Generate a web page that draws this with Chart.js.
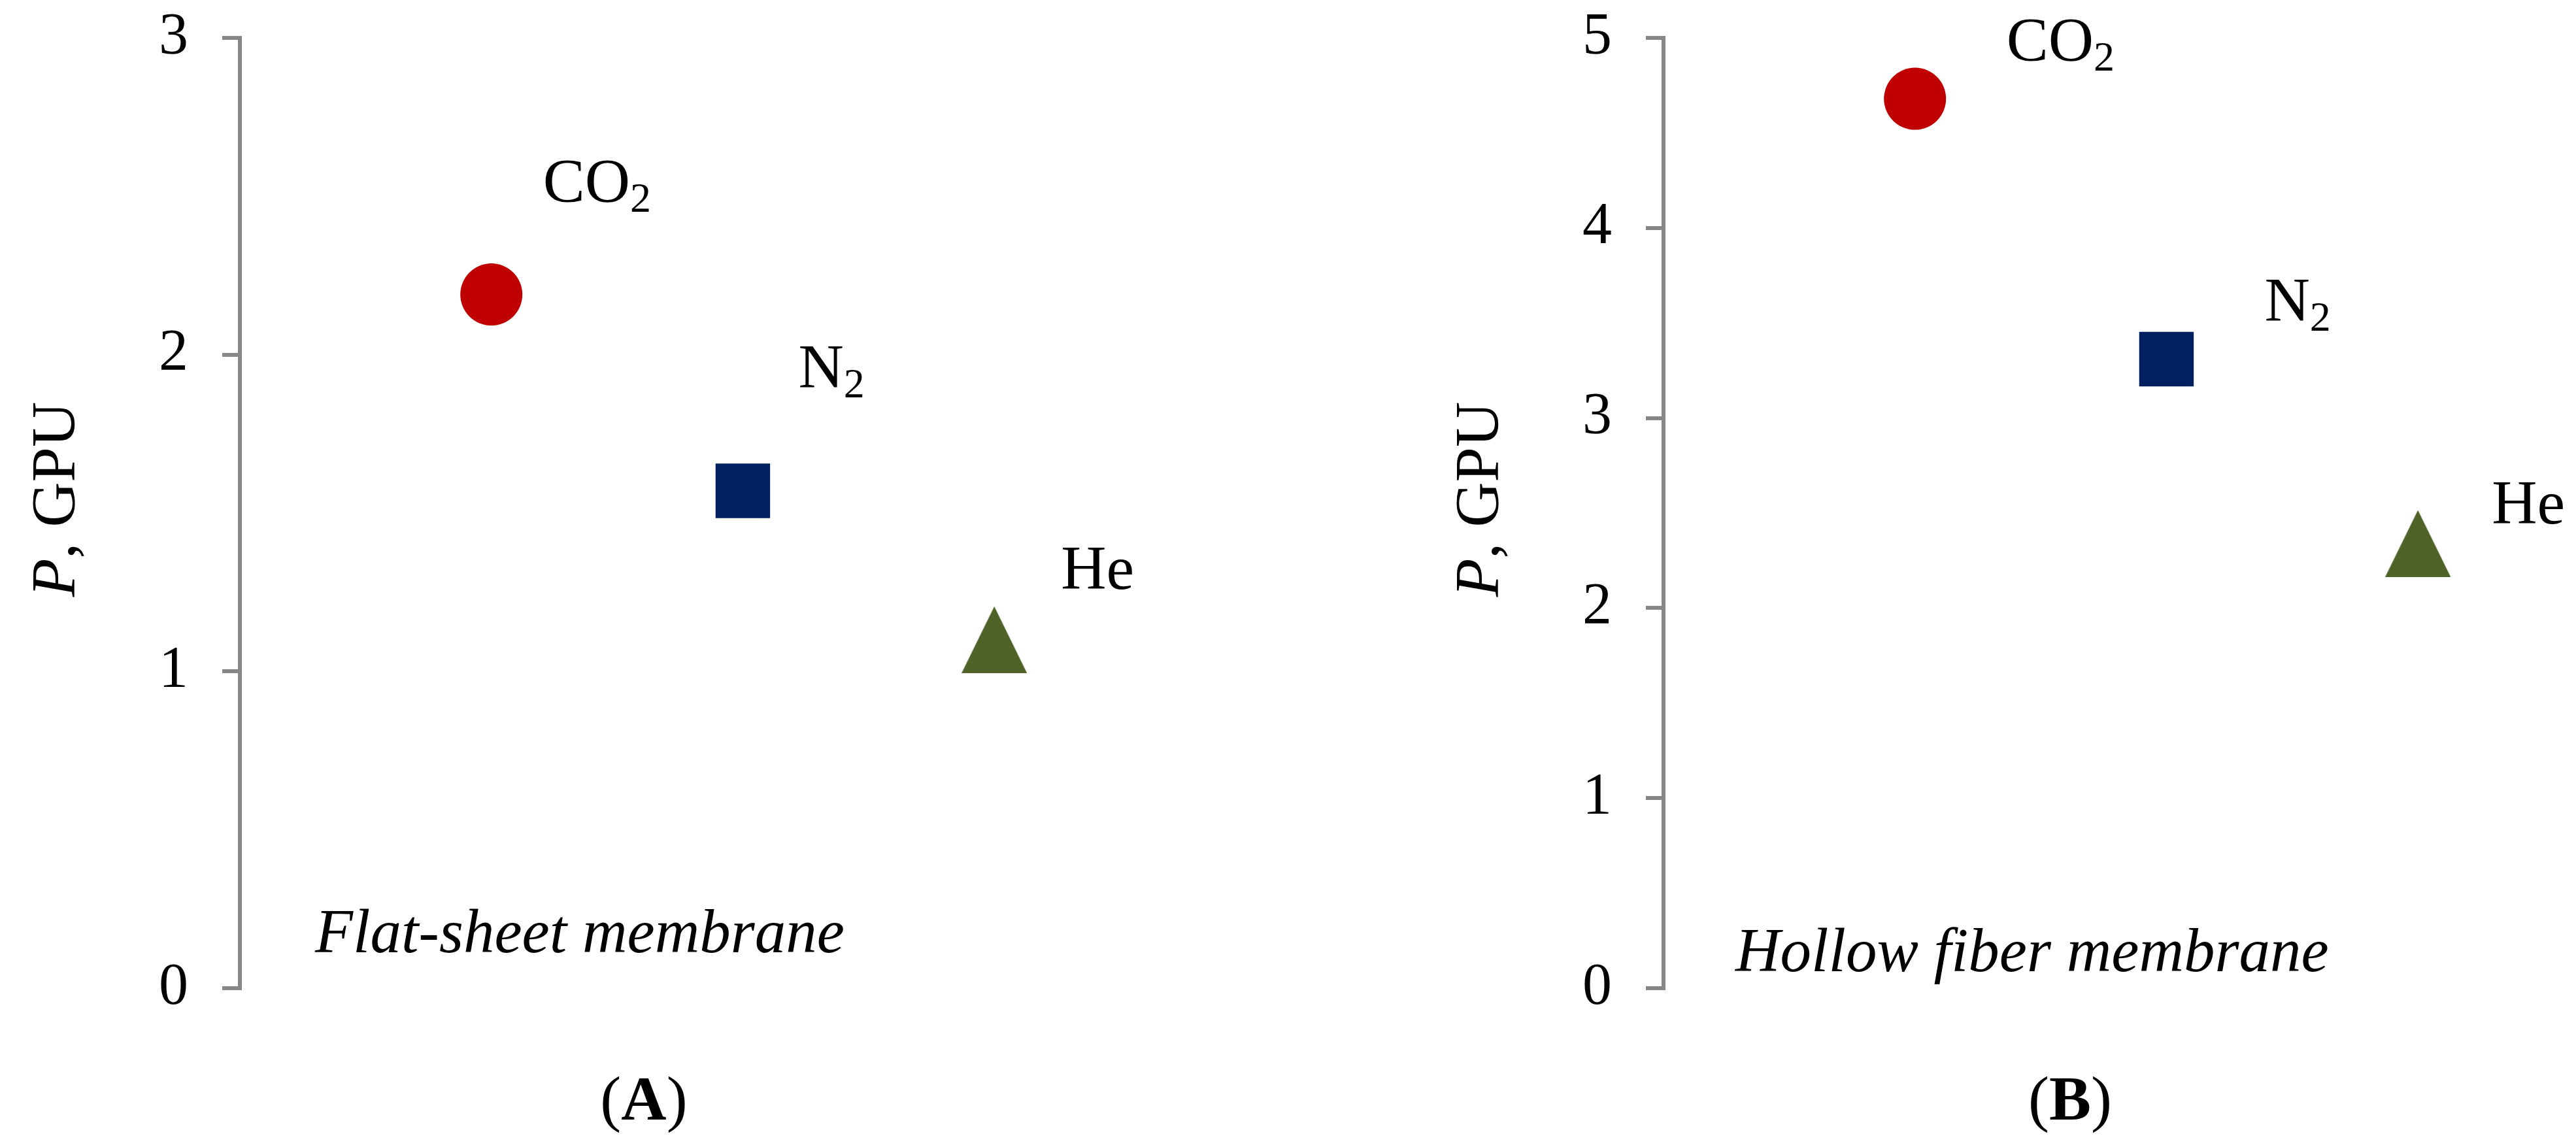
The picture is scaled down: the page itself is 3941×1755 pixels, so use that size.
<!DOCTYPE html>
<html>
<head>
<meta charset="utf-8">
<script src="https://cdn.jsdelivr.net/npm/chart.js@4.4.0/dist/chart.umd.min.js"></script>
<style>
  html, body { margin: 0; padding: 0; background: #fff; }
  #wrap { position: relative; width: 3941px; height: 1755px; }
  canvas { position: absolute; top: 0; }
</style>
</head>
<body>
<div id="wrap">
  <canvas id="panelA" width="1970" height="1755" style="left:0px"></canvas>
  <canvas id="panelB" width="1971" height="1755" style="left:1970px"></canvas>
</div>
<script>
// data
const gases = ['CO2', 'N2', 'He'];
const gasX = [1, 2, 3];
const flatSheetP = [2.19, 1.57, 1.10];
const hollowFiberP = [4.68, 3.31, 2.34];
const ticksA = [0, 1, 2, 3];
const ticksB = [0, 1, 2, 3, 4, 5];

const SERIF = "'Liberation Serif', 'Times New Roman', serif";
const AXIS_GREY = '#878787';
const colors = ['#C00000', '#002060', '#4F6228'];

function triangleMarker(w, h, color) {
    const c = document.createElement('canvas');
    c.width = w;
    c.height = h;
    const g = c.getContext('2d');
    g.fillStyle = color;
    g.beginPath();
    g.moveTo(w / 2, 0);
    g.lineTo(w, h);
    g.lineTo(0, h);
    g.closePath();
    g.fill();
    return c;
}

const pointStyles = ['circle', 'rect', triangleMarker(100, 102, colors[2])];
const pointRadii = [47.5, 59, 50];

// chemical formula with subscripted digits
function drawFormula(ctx, text, x, y) {
    let cx = x;
    for (const ch of text) {
        if (/[0-9]/.test(ch)) {
            ctx.font = '64px ' + SERIF;
            ctx.fillText(ch, cx, y + 15);
        } else {
            ctx.font = '96px ' + SERIF;
            ctx.fillText(ch, cx, y);
        }
        cx += ctx.measureText(ch).width;
    }
}

const panelText = {
    id: 'panelText',
    afterDraw(chart, args, opts) {
        const ctx = chart.ctx;
        const area = chart.chartArea;
        ctx.save();
        ctx.fillStyle = '#000';
        ctx.textBaseline = 'alphabetic';
        ctx.textAlign = 'left';

        // y axis title: italic P + ", GPU"
        ctx.save();
        ctx.translate(area.left - 253, 764);
        ctx.rotate(-Math.PI / 2);
        ctx.font = 'italic 96px ' + SERIF;
        const wP = ctx.measureText('P').width;
        ctx.font = '96px ' + SERIF;
        const wRest = ctx.measureText(', GPU').width;
        let sx = -(wP + wRest) / 2;
        ctx.font = 'italic 96px ' + SERIF;
        ctx.fillText('P', sx, 0);
        ctx.font = '96px ' + SERIF;
        ctx.fillText(', GPU', sx + wP, 0);
        ctx.restore();

        // point labels
        chart.data.datasets.forEach((ds, i) => {
            const pt = chart.getDatasetMeta(i).data[0];
            const off = opts.labelOffsets[i];
            drawFormula(ctx, ds.label, pt.x + off[0], pt.y + off[1]);
        });

        // membrane caption
        ctx.font = 'italic 95px ' + SERIF;
        ctx.fillText(opts.caption, area.left + opts.captionPos[0], opts.captionPos[1]);

        // panel letter "(A)" with bold letter
        ctx.font = '96px ' + SERIF;
        const wPar = ctx.measureText('(').width;
        ctx.font = 'bold 96px ' + SERIF;
        const wL = ctx.measureText(opts.letter).width;
        let lx = opts.letterX - (2 * wPar + wL) / 2;
        ctx.font = '96px ' + SERIF;
        ctx.fillText('(', lx, 1713);
        ctx.font = 'bold 96px ' + SERIF;
        ctx.fillText(opts.letter, lx + wPar, 1713);
        ctx.font = '96px ' + SERIF;
        ctx.fillText(')', lx + wPar + wL, 1713);
        ctx.restore();
    }
};

function makePanel(id, values, yTicks, padLeft, padRight, text) {
    const datasets = gases.map((g, i) => ({
        label: g,
        data: [{ x: gasX[i], y: values[i] }],
        pointStyle: pointStyles[i],
        pointRadius: pointRadii[i],
        pointHoverRadius: pointRadii[i],
        backgroundColor: colors[i],
        borderColor: colors[i],
        borderWidth: 0,
        showLine: false
    }));
    return new Chart(document.getElementById(id).getContext('2d'), {
        type: 'scatter',
        data: { datasets: datasets },
        options: {
            responsive: false,
            animation: false,
            layout: {
                autoPadding: false,
                padding: { left: padLeft, right: padRight, top: 58, bottom: 243 }
            },
            plugins: {
                legend: { display: false },
                tooltip: { enabled: false },
                panelText: text
            },
            scales: {
                x: { type: 'linear', min: 0, max: 3.6, display: false },
                y: {
                    type: 'linear',
                    min: yTicks[0],
                    max: yTicks[yTicks.length - 1],
                    afterFit: s => {
                        s.width = 367;
                        s.paddingTop = 0;
                        s.paddingBottom = 0;
                    },
                    afterBuildTicks: s => { s.ticks = yTicks.map(v => ({ value: v })); },
                    border: { display: true, color: AXIS_GREY, width: 6 },
                    grid: { drawOnChartArea: false, drawTicks: true, tickLength: 27, color: AXIS_GREY, lineWidth: 6 },
                    ticks: { color: '#000', padding: 52, font: { family: SERIF, size: 90 } }
                }
            }
        },
        plugins: [panelText]
    });
}

makePanel('panelA', flatSheetP, ticksA, 0, 218, {
    labelOffsets: [[79, -142], [85, -158], [102, -78]],
    caption: 'Flat-sheet membrane',
    captionPos: [115, 1457],
    letter: 'A',
    letterX: 985
});

makePanel('panelB', hollowFiberP, ticksB, 208, 11, {
    labelOffsets: [[140, -58], [150, -58], [113, -31]],
    caption: 'Hollow fiber membrane',
    captionPos: [110, 1486],
    letter: 'B',
    letterX: 1197
});
</script>
</body>
</html>
